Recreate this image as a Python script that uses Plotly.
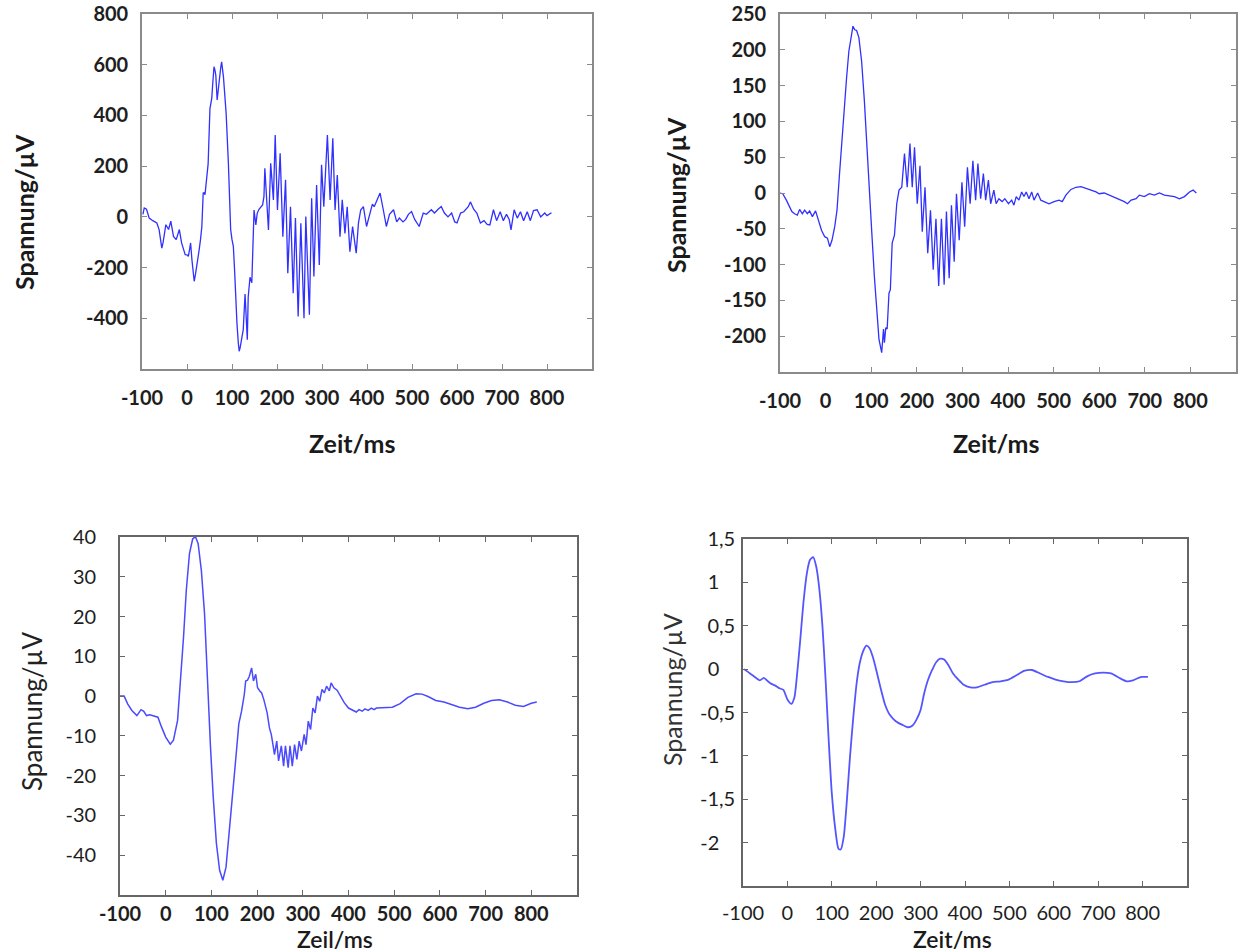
import plotly.graph_objects as go

W, H = 1238, 952

# ---------------- data ----------------
x_ticks = [-100, 0, 100, 200, 300, 400, 500, 600, 700, 800]
x_text = ["-100", "0", "100", "200", "300", "400", "500", "600", "700", "800"]

# Panel 1 (top left)
t1 = [-98, -95, -90, -84, -76, -67, -62, -58, -56, -53, -51, -47, -44, -41, -36, -33, -30, -24, -20, -17,
      -12, -8, -4, 0, 3, 6, 8, 11, 14, 16, 19, 22, 27, 30, 33, 36, 38, 40, 44, 47,
      51, 55, 57, 60, 62, 64, 67, 70, 72, 75, 77, 79, 81, 84, 87, 92, 97, 100, 103, 106,
      108, 111, 114, 116, 118, 121, 125, 129, 132, 134, 136, 140, 144, 147, 149, 153, 156, 160, 164, 168,
      171, 173, 181, 186, 192, 196, 201, 207, 213, 219, 224, 230, 236, 241, 247, 253, 260, 264, 272, 277,
      282, 288, 294, 299, 304, 312, 318, 324, 329, 334, 340, 345, 351, 356, 362, 368, 376, 381, 386, 392,
      399, 407, 412, 416, 425, 429, 436, 443, 450, 459, 466, 472, 480, 486, 492, 499, 506, 516, 525, 532,
      543, 550, 558, 565, 572, 580, 588, 595, 600, 608, 615, 625, 630, 637, 644, 652, 660, 667, 673, 681,
      688, 696, 703, 710, 716, 720, 727, 734, 741, 748, 756, 763, 770, 778, 786, 795, 800, 810]
v1 = [10, 35, 30, -5, -15, -24, -50, -100, -123, -100, -77, -31, -40, -50, -17, -45, -77, -90, -70, -50,
      -103, -125, -149, -150, -156, -125, -103, -170, -234, -254, -225, -195, -130, -90, -38, 94, 95, 87, 150, 210,
      427, 467, 520, 592, 580, 559, 461, 520, 552, 590, 611, 590, 552, 480, 407, 210, -50, -90, -116, -220,
      -313, -420, -497, -530, -517, -490, -445, -304, -445, -485, -317, -238, -260, -77, 27, -32, 14, 30, 40, 47,
      80, 192, -52, 211, 67, 323, 27, 251, -78, 146, -222, 40, -301, -5, -393, -25, -400, 1, -386, 73,
      -235, 126, -190, 205, 40, 323, 67, 310, 27, 165, -78, 67, -65, 40, -137, -38, -143, -25, 27, 40,
      -38, 14, 50, 40, 80, 94, 30, -38, 10, 28, -20, -5, -20, -10, 10, 21, -10, -38, 15, 10,
      28, 15, 30, 41, 15, 0, 15, -20, -24, 15, 20, 40, 59, 30, 15, -24, -15, -30, -32, 28,
      -15, 20, -15, 10, -10, -51, 28, -5, 20, -15, 20, -15, 25, 28, 0, 15, 5, 16]

# Panel 2 (top right)
t2 = [-101, -94, -86, -79, -74, -68, -62, -57, -51, -46, -40, -35, -29, -22, -16, -9, -2, 4, 9, 14,
      20, 25, 30, 35, 41, 46, 51, 57, 60, 64, 68, 73, 79, 85, 90, 95, 101, 107, 112, 117,
      123, 127, 129, 132, 135, 139, 142, 146, 151, 156, 161, 167, 173, 179, 185, 190, 195, 201, 207, 212,
      218, 224, 230, 236, 242, 248, 254, 260, 265, 271, 276, 282, 287, 293, 299, 305, 311, 317, 323, 329,
      334, 340, 346, 351, 357, 362, 369, 374, 380, 387, 393, 401, 408, 413, 418, 424, 430, 435, 440, 446,
      452, 457, 465, 472, 479, 490, 501, 512, 519, 527, 538, 549, 560, 571, 582, 593, 600, 611, 622, 633,
      644, 655, 662, 670, 681, 688, 699, 710, 721, 732, 743, 754, 765, 776, 787, 798, 806, 813]
v2 = [0, -1, -10, -19, -26, -29, -31, -23, -29, -24, -29, -25, -33, -25, -38, -52, -61, -63, -75, -66,
      -47, -24, 22, 68, 115, 161, 198, 221, 233, 228, 227, 217, 184, 129, 68, 8, -52, -117, -163, -204,
      -223, -190, -209, -188, -190, -140, -135, -70, -59, -15, 4, 8, 55, 8, 69, 8, 64, -15, 38, -54,
      8, -84, -24, -107, -36, -130, -36, -128, -26, -119, -17, -96, -1, -66, 15, -47, 36, -15, 45, -10,
      41, -8, 27, -10, 18, -15, 4, -15, -8, -12, -8, -15, -10, -17, -5, -10, 1.5, -5, 1.5, -8,
      1.5, -10, 0, -10, -12, -15, -12, -10, -12, -3, 5, 8, 9, 7, 4, 1.5, -1, 0, -3, -5,
      -9, -12, -15, -10, -8, -3, -5, -1, -3, 0, -3, -4, -5, -8, -5, 1.5, 4, 0]

# Panel 3 (bottom left)
t3 = [-100, -91, -83, -74, -63, -54, -48, -42, -35, -26, -17, -9, 0, 10, 17, 26, 33, 39, 45, 52,
      59, 65, 71, 78, 85, 91, 98, 104, 111, 118, 125, 132, 139, 146, 153, 160, 166, 172, 175, 179,
      183, 188, 192, 197, 201, 206, 210, 215, 222, 227, 231, 234, 238, 243, 247, 253, 258, 262, 268, 272,
      277, 282, 287, 292, 297, 303, 307, 312, 317, 322, 327, 332, 337, 342, 347, 352, 358, 362, 368, 375,
      382, 391, 400, 410, 417, 423, 430, 436, 443, 450, 456, 461, 478, 496, 513, 530, 548, 561, 574, 591,
      609, 626, 643, 661, 678, 696, 713, 730, 748, 765, 783, 800, 812]
v3 = [0, 0, -2, -3.6, -4.9, -3.4, -3.8, -4.9, -4.7, -5.1, -5.3, -7.8, -10.3, -12.1, -11.1, -6.1, 3.9, 14.8, 26.5, 35.8,
      39.5, 40.1, 38.3, 31.6, 20.7, 3.9, -12.8, -25.4, -37.1, -43.8, -46.3, -43, -34.6, -25.4, -16.2, -7, -3.8, 0.4, 3.8, 4,
      5, 7.1, 3.8, 5.5, 2.1, 1.3, 0.8, -1, -4.2, -8, -9.6, -11.7, -14.7, -11.3, -16.3, -12.5, -17.6, -12.5, -18, -12.5,
      -17.6, -12.2, -15.9, -11.3, -13.8, -9.6, -12.2, -6.3, -8.4, -3, -4.2, 0, -1.3, 1.7, 0.8, 2.5, 1.3, 3.3, 2.1, 1.5,
      0, -1.7, -3, -3.6, -4, -3.4, -3.8, -3.2, -3.6, -3.0, -3.4, -3, -2.9, -2.8, -1.9, -0.3, 0.6, 0.5, -0.1, -1.1,
      -1.5, -2.1, -2.8, -3.2, -2.8, -1.8, -1.1, -0.9, -1.5, -2.3, -2.6, -1.8, -1.5]

# Panel 4 (bottom right)
t4 = [-98, -84, -71, -62, -53, -44, -36, -27, -18, -9, 0, 9, 16, 22, 29, 36, 44, 51, 58, 65,
      72, 79, 86, 93, 100, 108, 115, 120, 127, 134, 141, 148, 156, 163, 170, 178, 185, 193, 202, 211,
      220, 231, 244, 258, 271, 282, 291, 300, 308, 317, 326, 335, 344, 353, 362, 373, 385, 397, 412, 427,
      444, 462, 480, 498, 516, 533, 551, 569, 587, 604, 622, 640, 658, 676, 693, 711, 729, 747, 764, 778,
      791, 800, 812]
v4 = [0, -0.05, -0.1, -0.13, -0.1, -0.14, -0.17, -0.19, -0.22, -0.24, -0.35, -0.4, -0.32, -0.05, 0.34, 0.76, 1.11, 1.26, 1.29, 1.18,
      0.92, 0.49, -0.12, -0.82, -1.43, -1.85, -2.07, -2.08, -1.93, -1.51, -1.01, -0.58, -0.16, 0.07, 0.2, 0.27, 0.24, 0.13, -0.05, -0.24,
      -0.41, -0.53, -0.6, -0.64, -0.67, -0.65, -0.58, -0.47, -0.28, -0.12, -0.01, 0.08, 0.12, 0.11, 0.05, -0.05, -0.12, -0.18, -0.21, -0.21,
      -0.18, -0.15, -0.14, -0.12, -0.07, -0.02, -0.01, -0.05, -0.09, -0.12, -0.14, -0.15, -0.14, -0.08, -0.05, -0.04, -0.05, -0.1, -0.14, -0.13,
      -0.1, -0.09, -0.09]

y1_ticks = [-400, -200, 0, 200, 400, 600, 800]
y2_ticks = [-200, -150, -100, -50, 0, 50, 100, 150, 200, 250]
y3_ticks = [-40, -30, -20, -10, 0, 10, 20, 30, 40]
y4_ticks = [-2, -1.5, -1, -0.5, 0, 0.5, 1, 1.5]
y4_text = ["-2\u2008\u2007", "-1,5", "-1\u2008\u2007", "-0,5", "0\u2008\u2007", "0,5", "1\u2008\u2007", "1,5"]

# ---------------- figure ----------------
def px_x(p):
    return p / W

def px_y(p):
    return 1 - p / H

fig = go.Figure()
fig.add_trace(go.Scatter(x=t1, y=v1, mode="lines", line=dict(color="#3030ff", width=1.3), xaxis="x", yaxis="y"))
fig.add_trace(go.Scatter(x=t2, y=v2, mode="lines", line=dict(color="#3030ff", width=1.3), xaxis="x2", yaxis="y2"))
fig.add_trace(go.Scatter(x=t3, y=v3, mode="lines", line=dict(color="#4a4aff", width=1.5), xaxis="x3", yaxis="y3"))
fig.add_trace(go.Scatter(x=t4, y=v4, mode="lines", line=dict(color="#5555ff", width=1.8, shape="spline", smoothing=0.6),
                         xaxis="x4", yaxis="y4"))

FONT = "Lato"
bold_tick = dict(family=FONT, size=20, color="#1e1e1e", weight="bold")
reg_tick = dict(family=FONT, size=20, color="#1e1e1e")

def xaxis(dom, anchor, line_color, tfont, standoff):
    return dict(domain=dom, anchor=anchor, range=[-100, 900], tickvals=x_ticks, ticktext=x_text,
                ticks="inside", ticklen=5, tickcolor=line_color, tickwidth=1.2,
                showline=True, linecolor=line_color, linewidth=1.6, mirror="ticks",
                showgrid=False, zeroline=False, tickfont=tfont, ticklabelstandoff=standoff,
                automargin=False)

def yaxis(dom, anchor, rng, tv, tt, line_color, tfont, standoff):
    return dict(domain=dom, anchor=anchor, range=rng, tickvals=tv, ticktext=tt,
                ticks="inside", ticklen=5, tickcolor=line_color, tickwidth=1.2,
                showline=True, linecolor=line_color, linewidth=1.6, mirror="ticks",
                showgrid=False, zeroline=False, tickfont=tfont, ticklabelstandoff=standoff,
                automargin=False)

g1 = "#8a8a8a"
g2 = "#666666"

fig.update_layout(
    template="none",
    width=W, height=H, margin=dict(l=0, r=0, t=0, b=0, autoexpand=False),
    paper_bgcolor="white", plot_bgcolor="white", showlegend=False,
    xaxis=xaxis([px_x(142), px_x(592)], "y", g1, bold_tick, 10),
    yaxis=yaxis([px_y(369), px_y(14)], "x", [-600, 800], y1_ticks, [str(v) for v in y1_ticks], g1, bold_tick, 8),
    xaxis2=xaxis([px_x(780), px_x(1236)], "y2", g1, bold_tick, 10),
    yaxis2=yaxis([px_y(372), px_y(14)], "x2", [-250, 250], y2_ticks, [str(v) for v in y2_ticks], g1, bold_tick, 8),
    xaxis3=xaxis([px_x(120), px_x(577)], "y3", g2, bold_tick, 0),
    yaxis3=yaxis([px_y(895), px_y(537)], "x3", [-50, 40], y3_ticks, [str(v) for v in y3_ticks], g2, reg_tick, 18),
    xaxis4=xaxis([px_x(743), px_x(1187)], "y4", g2, reg_tick, 8),
    yaxis4=yaxis([px_y(886), px_y(539)], "x4", [-2.5, 1.5], y4_ticks, y4_text, g2, reg_tick, 2),
)

def ann(text, x, y, angle, size, weight, color="#1a1a1a"):
    fig.add_annotation(text=text, x=px_x(x), y=px_y(y), xref="paper", yref="paper",
                       xanchor="center", yanchor="middle", showarrow=False, textangle=angle,
                       font=dict(family=FONT, size=size, color=color, weight=weight))

ann("Spannung/µV", 24, 212, -90, 25, "bold")
ann("Zeit/ms", 352, 443, 0, 25, "bold")
ann("Spannung/µV", 676, 195, -90, 25, "bold")
ann("Zeit/ms", 996, 443, 0, 25, "bold")
ann("Spannung/µV", 32, 712, -90, 26, "normal", "#222222")
ann("Zeil/ms", 335, 939, 0, 23, 600)
ann("Spannung/µV", 672, 690, -90, 25, "normal", "#333333")
ann("Zeit/ms", 952, 939, 0, 23, 600)

fig.write_html("out.html")
